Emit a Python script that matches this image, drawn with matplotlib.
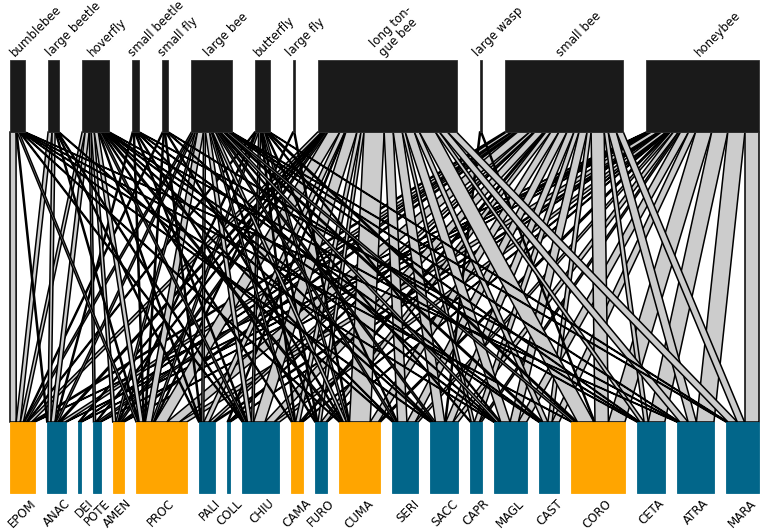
import numpy as np
import matplotlib.pyplot as plt
from matplotlib.patches import Rectangle, Polygon

# higher level (pollinators), left to right
pollinators = ['bumblebee', 'large beetle', 'hoverfly', 'small beetle', 'small fly',
               'large bee', 'butterfly', 'large fly', 'long ton-\ngue bee', 'large wasp',
               'small bee', 'honeybee']
# lower level (plants), left to right
plants = ['EPOM', 'ANAC', 'DEI', 'POTE', 'AMEN', 'PROC', 'PALI', 'COLL', 'CHIU', 'CAMA',
          'FURO', 'CUMA', 'SERI', 'SACC', 'CAPR', 'MAGL', 'CAST', 'CORO', 'CETA', 'ATRA', 'MARA']
plant_type = ['o', 'b', 'b', 'b', 'o', 'o', 'b', 'b', 'b', 'o', 'b',
              'o', 'b', 'b', 'b', 'b', 'b', 'o', 'b', 'b', 'b']

# visits of each pollinator to each plant (same order as plants)
bumblebee    = [6, 1, 0, 0, 0, 2, 0, 0, 1, 0, 0, 1, 0, 1, 0, 1, 0, 1, 0, 1, 0]
large_beetle = [4, 3, 0, 0, 0, 1, 1, 0, 1, 0, 0, 0, 1, 0, 0, 0, 0, 0, 0, 0, 0]
hoverfly     = [3, 4, 0, 2, 3, 4, 1, 0, 2, 1, 0, 2, 1, 1, 0, 1, 1, 0, 1, 0, 0]
small_beetle = [0, 1, 0, 0, 0, 1, 0, 0, 1, 0, 1, 0, 0, 1, 0, 0, 1, 0, 0, 1, 0]
small_fly    = [1, 0, 0, 0, 0, 1, 1, 0, 0, 0, 0, 1, 0, 0, 0, 1, 0, 0, 1, 0, 0]
large_bee    = [2, 2, 0, 0, 2, 6, 2, 0, 4, 2, 1, 3, 2, 2, 1, 3, 2, 3, 1, 1, 1]
butterfly    = [1, 0, 0, 0, 1, 2, 0, 0, 2, 1, 1, 2, 1, 0, 0, 1, 0, 2, 0, 0, 1]
large_fly    = [0, 0, 0, 0, 0, 1, 0, 0, 0, 0, 0, 1, 0, 0, 0, 0, 0, 0, 0, 0, 0]
long_tongue  = [4, 2, 1, 1, 2, 12, 5, 1, 11, 4, 3, 20, 9, 9, 3, 9, 5, 16, 4, 8, 9]
large_wasp   = [0, 0, 0, 0, 0, 0, 0, 0, 0, 0, 0, 0, 0, 1, 0, 0, 0, 1, 0, 0, 0]
small_bee    = [2, 5, 1, 3, 2, 12, 4, 1, 9, 2, 5, 8, 8, 7, 5, 8, 4, 13, 4, 8, 7]
honeybee     = [1, 1, 1, 1, 1, 7, 2, 1, 5, 1, 1, 2, 3, 5, 2, 8, 7, 16, 16, 17, 14]

web = np.column_stack([bumblebee, large_beetle, hoverfly, small_beetle, small_fly,
                       large_bee, butterfly, large_fly, long_tongue, large_wasp,
                       small_bee, honeybee]).astype(float)

colors = {'o': '#FFA500', 'b': '#02668A'}

fig = plt.figure(figsize=(7.6, 5.3), dpi=100)
ax = fig.add_axes([0, 0, 1, 1])
ax.set_xlim(0, 760)
ax.set_ylim(530, 0)
ax.axis('off')

x_left, x_right = 10, 759
high_gap, low_gap = 23, 12
high_top, high_bot = 60, 132
low_top, low_bot = 422, 493

high_tot = web.sum(axis=0)
low_tot = web.sum(axis=1)
n_high, n_low = len(high_tot), len(low_tot)

high_scale = (x_right - x_left - high_gap * (n_high - 1)) / high_tot.sum()
low_scale = (x_right - x_left - low_gap * (n_low - 1)) / low_tot.sum()

high_x = x_left + np.concatenate([[0], np.cumsum(high_tot * high_scale + high_gap)[:-1]])
low_x = x_left + np.concatenate([[0], np.cumsum(low_tot * low_scale + low_gap)[:-1]])

# link start offsets inside each box
high_off = np.vstack([np.zeros(n_high), np.cumsum(web, axis=0)[:-1]]) * high_scale
low_off = np.hstack([np.zeros((n_low, 1)), np.cumsum(web, axis=1)[:, :-1]]) * low_scale

for i in range(n_low):
    for j in range(n_high):
        v = web[i, j]
        if v <= 0:
            continue
        t0 = high_x[j] + high_off[i, j]
        t1 = t0 + v * high_scale
        b0 = low_x[i] + low_off[i, j]
        b1 = b0 + v * low_scale
        ax.add_patch(Polygon([(t0, high_bot), (t1, high_bot), (b1, low_top), (b0, low_top)],
                             closed=True, facecolor='#cccccc', edgecolor='black', lw=1.1))

for j in range(n_high):
    w = high_tot[j] * high_scale
    ax.add_patch(Rectangle((high_x[j], high_top), w, high_bot - high_top,
                           facecolor='#1a1a1a', edgecolor='#333333', lw=0.6))
    ax.text(high_x[j] + w / 2 - 3, high_top - 3, pollinators[j], rotation=45,
            rotation_mode='anchor', ha='left', va='baseline', fontsize=8.5,
            linespacing=1.0)

for i in range(n_low):
    w = low_tot[i] * low_scale
    c = colors[plant_type[i]]
    ax.add_patch(Rectangle((low_x[i], low_top), w, low_bot - low_top,
                           facecolor=c, edgecolor=c, lw=0.6))
    ax.text(low_x[i] + w / 2 + 7, low_bot + 4, plants[i], rotation=45,
            rotation_mode='anchor', ha='right', va='top', fontsize=8.5)

fig.savefig('out.png', dpi=100)
